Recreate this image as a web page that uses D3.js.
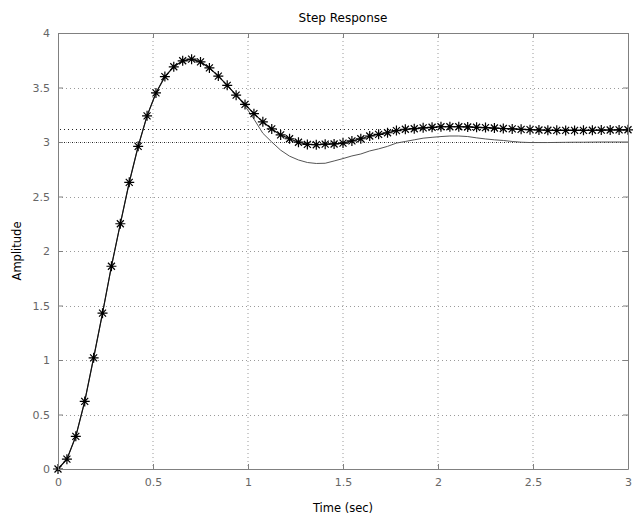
<!DOCTYPE html>
<html>
<head>
<meta charset="utf-8">
<script src="https://cdn.jsdelivr.net/npm/d3@7/dist/d3.min.js"></script>
<style>
  html, body { margin: 0; padding: 0; background: #fff; }
  svg { display: block; }
  .tick text { font-family: "DejaVu Sans", Verdana, sans-serif; font-size: 11px; fill: #666; }
</style>
</head>
<body>
<div id="chart"></div>
<script>
// Step responses sampled every 3/64 s over 0..3 s
const sampleStep = 3 / 64;

// Response drawn with '*' markers
const starValues = [
  0, 0.09, 0.30, 0.62, 1.02, 1.43, 1.86, 2.25, 2.63, 2.96,
  3.24, 3.45, 3.60, 3.69, 3.745, 3.76, 3.735, 3.68, 3.605, 3.52,
  3.43, 3.345, 3.26, 3.185, 3.12, 3.065, 3.03, 2.998, 2.978, 2.975,
  2.98, 2.982, 2.99, 3.01, 3.03, 3.055, 3.07, 3.085, 3.105, 3.117,
  3.122, 3.13, 3.135, 3.14, 3.14, 3.14, 3.138, 3.135, 3.132, 3.128,
  3.124, 3.12, 3.116, 3.113, 3.11, 3.108, 3.107, 3.106, 3.106, 3.107,
  3.108, 3.109, 3.11, 3.111, 3.112
];

// Response drawn as a plain solid line
const lineValues = [
  0, 0.09, 0.30, 0.62, 1.02, 1.43, 1.86, 2.25, 2.63, 2.96,
  3.24, 3.45, 3.60, 3.69, 3.745, 3.76, 3.735, 3.68, 3.605, 3.52,
  3.43, 3.33, 3.21, 3.08, 3.0, 2.925, 2.87, 2.835, 2.812, 2.803,
  2.805, 2.826, 2.848, 2.872, 2.89, 2.918, 2.937, 2.96, 2.99, 3.005,
  3.02, 3.035, 3.043, 3.05, 3.055, 3.055, 3.05, 3.038, 3.028, 3.02,
  3.014, 3.005, 2.998, 2.995, 2.995, 2.995, 2.996, 2.997, 2.998, 2.998,
  2.999, 3.0, 3.0, 3.0, 3.0
];

// Steady-state levels of the two responses
const steadyStates = [3.115, 3.0];

const xTicks = [0, 0.5, 1, 1.5, 2, 2.5, 3];
const yTicks = [0, 0.5, 1, 1.5, 2, 2.5, 3, 3.5, 4];

const titleText = "Step Response";
const xLabelText = "Time (sec)";
const yLabelText = "Amplitude";

const width = 635, height = 523;
const margin = { top: 33, right: 7, bottom: 54, left: 58 };
const plotW = width - margin.left - margin.right;
const plotH = height - margin.top - margin.bottom;

const svg = d3.select("#chart").append("svg")
  .attr("width", width).attr("height", height);

const g = svg.append("g").attr("transform", `translate(${margin.left},${margin.top})`);

const x = d3.scaleLinear().domain([0, 3]).range([0, plotW]);
const y = d3.scaleLinear().domain([0, 4]).range([plotH, 0]);

// Dotted grid
const grid = g.append("g").attr("class", "grid");
grid.selectAll("line.vx").data(xTicks.slice(1, -1)).enter().append("line")
  .attr("x1", d => x(d)).attr("x2", d => x(d))
  .attr("y1", 0).attr("y2", plotH)
  .attr("stroke", "#9a9a9a").attr("stroke-width", 1)
  .attr("stroke-dasharray", "1,3");
grid.selectAll("line.hy").data(yTicks.slice(1, -1)).enter().append("line")
  .attr("x1", 0).attr("x2", plotW)
  .attr("y1", d => Math.round(y(d)) + 0.5).attr("y2", d => Math.round(y(d)) + 0.5)
  .attr("stroke", "#9a9a9a").attr("stroke-width", 1)
  .attr("stroke-dasharray", "1,3");

// Steady-state reference lines
g.selectAll("line.ss").data(steadyStates).enter().append("line")
  .attr("x1", 0).attr("x2", plotW)
  .attr("y1", d => Math.round(y(d)) + 0.5).attr("y2", d => Math.round(y(d)) + 0.5)
  .attr("stroke", "#222").attr("stroke-width", 1)
  .attr("stroke-dasharray", "1,3").attr("stroke-dashoffset", 2);

const t = i => i * sampleStep;

const lineGen = d3.line().x((d, i) => x(t(i))).y(d => y(d));

// Solid-line response
g.append("path").datum(lineValues)
  .attr("fill", "none").attr("stroke", "#555").attr("stroke-width", 1)
  .attr("d", lineGen);

// Starred response: connecting line plus '*' markers
g.append("path").datum(starValues)
  .attr("fill", "none").attr("stroke", "#111").attr("stroke-width", 1.2)
  .attr("d", lineGen);

const r = 5, rd = 3.5;
const starPath = `M${-r},0H${r}M0,${-r}V${r}M${-rd},${-rd}L${rd},${rd}M${-rd},${rd}L${rd},${-rd}`;
g.selectAll("path.star").data(starValues).enter().append("path")
  .attr("class", "star")
  .attr("transform", (d, i) => `translate(${x(t(i))},${y(d)})`)
  .attr("d", starPath)
  .attr("fill", "none").attr("stroke", "#000").attr("stroke-width", 1.2);

// Axes with inward ticks on all four sides
const fmt = d3.format("");
const axisColor = "#808080";
function styleAxis(sel) {
  sel.select(".domain").attr("stroke", axisColor);
  sel.selectAll(".tick line").attr("stroke", axisColor);
}
g.append("g").attr("transform", `translate(0,${plotH})`)
  .call(d3.axisBottom(x).tickValues(xTicks).tickFormat(fmt).tickSizeInner(-5).tickSizeOuter(0).tickPadding(9))
  .call(styleAxis);
g.append("g")
  .call(d3.axisLeft(y).tickValues(yTicks).tickFormat(fmt).tickSizeInner(-5).tickSizeOuter(0).tickPadding(8))
  .call(styleAxis);
g.append("g")
  .call(d3.axisTop(x).tickValues(xTicks).tickFormat("").tickSizeInner(-5).tickSizeOuter(0))
  .call(styleAxis);
g.append("g").attr("transform", `translate(${plotW},0)`)
  .call(d3.axisRight(y).tickValues(yTicks).tickFormat("").tickSizeInner(-5).tickSizeOuter(0))
  .call(styleAxis);

// Title and axis labels
const labelFont = "'DejaVu Sans', Verdana, sans-serif";
svg.append("text")
  .attr("x", margin.left + plotW / 2).attr("y", 22)
  .attr("text-anchor", "middle")
  .attr("font-family", labelFont).attr("font-size", 12).attr("fill", "#000")
  .text(titleText);
svg.append("text")
  .attr("x", margin.left + plotW / 2).attr("y", 512)
  .attr("text-anchor", "middle")
  .attr("font-family", labelFont).attr("font-size", 11.5).attr("fill", "#000")
  .text(xLabelText);
svg.append("text")
  .attr("transform", `translate(21,${margin.top + plotH / 2}) rotate(-90)`)
  .attr("text-anchor", "middle")
  .attr("font-family", labelFont).attr("font-size", 11.5).attr("fill", "#000")
  .text(yLabelText);
</script>
</body>
</html>
